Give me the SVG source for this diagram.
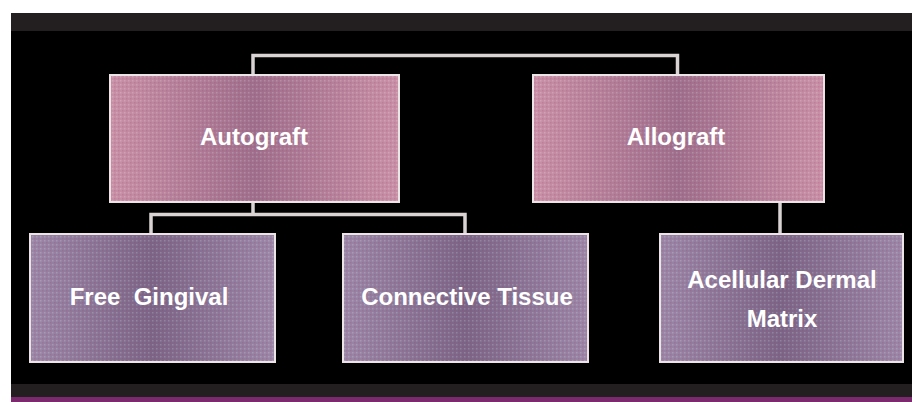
<svg xmlns="http://www.w3.org/2000/svg" width="912" height="402" viewBox="0 0 912 402">
<defs>
<linearGradient id="gTop" x1="0" y1="0" x2="1" y2="0">
<stop offset="0" stop-color="#c890a6"/>
<stop offset="0.5" stop-color="#9e6f8c"/>
<stop offset="1" stop-color="#c890a6"/>
</linearGradient>
<linearGradient id="gBot" x1="0" y1="0" x2="1" y2="0">
<stop offset="0" stop-color="#9a86a6"/>
<stop offset="0.5" stop-color="#7a6586"/>
<stop offset="1" stop-color="#9a86a6"/>
</linearGradient>
<pattern id="dots" width="4" height="4" patternUnits="userSpaceOnUse">
<rect x="0" y="0" width="1.5" height="1.5" fill="#ffffff" opacity="0.18"/>
<rect x="2" y="2" width="1.5" height="1.5" fill="#b03060" opacity="0.18"/>
</pattern>
</defs>
<style>
.top{fill:url(#gTop);stroke:#ece4e6;stroke-width:2}
.bot{fill:url(#gBot);stroke:#ece4e6;stroke-width:2}
.tex{fill:url(#dots);stroke:none}
.lbl{font-family:"Liberation Sans",Arial,sans-serif;font-weight:bold;font-size:24px;fill:#ffffff;text-anchor:middle}
.con{fill:none;stroke:#d9d3d4;stroke-width:3.5}
</style>
<rect x="0" y="0" width="912" height="402" fill="#ffffff"/>
<rect x="11" y="13" width="901" height="18" fill="#231f20"/>
<rect x="11" y="31" width="901" height="353" fill="#000000"/>
<rect x="11" y="384" width="901" height="13" fill="#231f20"/>
<rect x="11" y="397" width="901" height="5" fill="#7b2a6e"/>
<g id="connectors">
<path class="con" d="M253,75 V55.5 H677.5 V75"/>
<path class="con" d="M253,202 V214.5 H151 V234 M253,214.5 H465 V234"/>
<path class="con" d="M780,202 V234"/>
</g>
<g id="autograft">
<rect class="top" x="110" y="75" width="289" height="127"/>
<rect class="tex" x="111" y="76" width="287" height="125"/>
<text class="lbl" x="254" y="145">Autograft</text>
</g>
<g id="allograft">
<rect class="top" x="533" y="75" width="291" height="127"/>
<rect class="tex" x="534" y="76" width="289" height="125"/>
<text class="lbl" x="676" y="145">Allograft</text>
</g>
<g id="free-gingival">
<rect class="bot" x="30" y="234" width="245" height="128"/>
<rect class="tex" x="31" y="235" width="243" height="126"/>
<text class="lbl" x="149" y="305" xml:space="preserve">Free  Gingival</text>
</g>
<g id="connective-tissue">
<rect class="bot" x="343" y="234" width="245" height="128"/>
<rect class="tex" x="344" y="235" width="243" height="126"/>
<text class="lbl" x="467" y="305">Connective Tissue</text>
</g>
<g id="acellular">
<rect class="bot" x="660" y="234" width="243" height="128"/>
<rect class="tex" x="661" y="235" width="241" height="126"/>
<text class="lbl" x="782" y="288">Acellular Dermal</text>
<text class="lbl" x="782" y="327">Matrix</text>
</g>
</svg>
